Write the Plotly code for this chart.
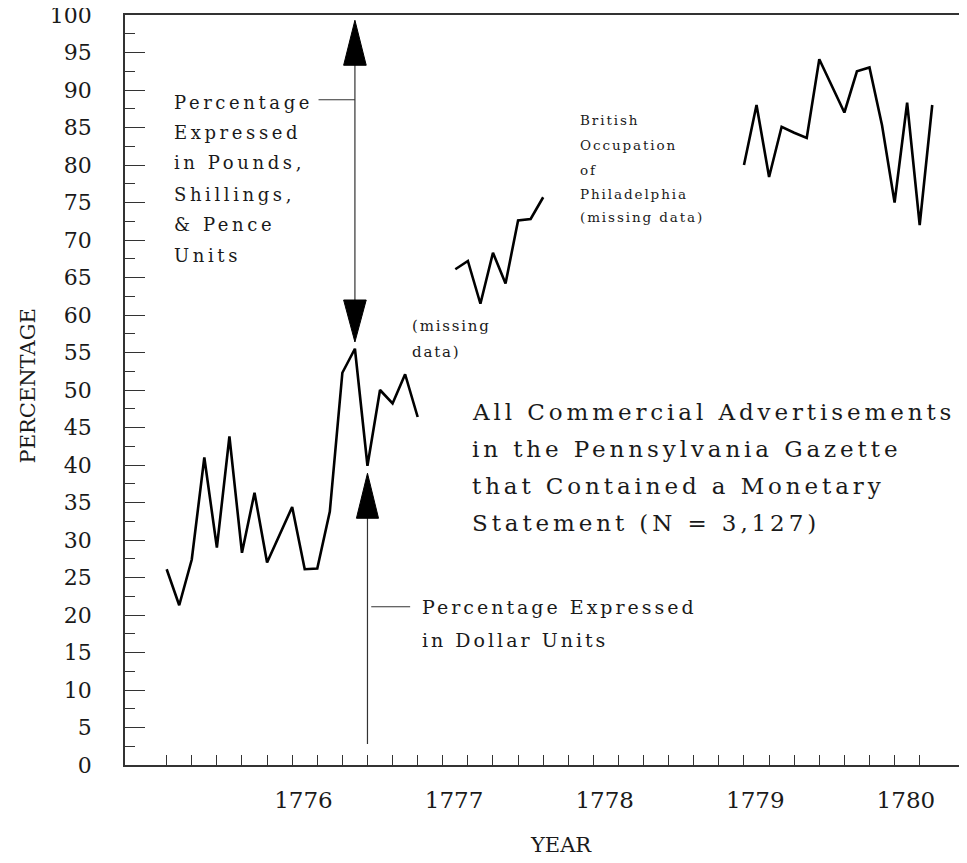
import plotly.graph_objects as go

# ---- data (month index from first observation; None = missing months) ----
seg1_months = list(range(0, 21))
seg1_values = [26.1, 21.3, 27.4, 41.0, 29.0, 43.8, 28.3, 36.3, 27.0, 30.7, 34.4,
               26.1, 26.2, 33.8, 52.3, 55.5, 39.9, 50.0, 48.2, 52.1, 46.4]
seg2_months = list(range(23, 31))
seg2_values = [66.1, 67.2, 61.5, 68.3, 64.2, 72.6, 72.8, 75.7]
seg3_months = list(range(46, 62))
seg3_values = [80.0, 88.0, 78.4, 85.1, 84.3, 83.6, 94.1, 90.5, 87.0, 92.5, 93.0,
               85.3, 75.0, 88.3, 72.0, 88.0]

year_labels = ["1776", "1777", "1778", "1779", "1780"]
year_positions = [10.9, 22.9, 34.9, 46.9, 58.9]
minor_xticks = list(range(0, 61, 2))
y_ticks = list(range(0, 101, 5))
y_minor_ticks = [v + 2.5 for v in range(0, 100, 5)]

FONT = "DejaVu Serif"
INK = "#1a1a1a"

x_all = seg1_months + [None] + seg2_months + [None] + seg3_months
y_all = seg1_values + [None] + seg2_values + [None] + seg3_values

fig = go.Figure()
fig.add_trace(go.Scatter(x=x_all, y=y_all, mode="lines",
                         line=dict(color="black", width=2.6),
                         connectgaps=False, showlegend=False, hoverinfo="skip"))


def sp(text, ls):
    return '<span style="letter-spacing:%.1fpx">%s</span>' % (ls, text)


def add_lines(lines, x, ys, size, ls):
    for t, yy in zip(lines, ys):
        fig.add_annotation(x=x, y=yy, xref="x", yref="y", text=sp(t, ls),
                           showarrow=False, xanchor="left", yanchor="middle",
                           font=dict(family=FONT, size=size, color=INK))


# annotations text
add_lines(["Percentage", "Expressed", "in Pounds,", "Shillings,", "& Pence", "Units"],
          0.42, [88.4, 84.3, 80.3, 76.1, 72.1, 67.9], 18, 3.6)
add_lines(["British", "Occupation", "of", "Philadelphia", "(missing data)"],
          32.8, [86.0, 82.7, 79.3, 76.1, 73.1], 13.5, 1.9)
add_lines(["(missing", "data)"], 19.4, [58.5, 55.1], 15, 1.8)
add_lines(["All Commercial Advertisements", "in the Pennsylvania Gazette",
           "that Contained a Monetary", "Statement (N = 3,127)"],
          24.2, [47.1, 42.1, 37.2, 32.3], 23, 3.9)
add_lines(["Percentage Expressed", "in Dollar Units"], 20.18, [21.1, 16.7], 19, 3.0)

# arrows (data coordinates)
LC = "#333333"
# top arrow (pounds) pointing at month 15
fig.add_shape(type="line", x0=15, x1=15, y0=93.5, y1=62.0, xref="x", yref="y",
              line=dict(color=LC, width=1.2))
fig.add_shape(type="path", path="M 14.1,93.3 L 15.9,93.3 L 15,99.3 Z",
              xref="x", yref="y", fillcolor="black", line=dict(color="black", width=1))
fig.add_shape(type="path", path="M 14.1,62.0 L 15.9,62.0 L 15,56.4 Z",
              xref="x", yref="y", fillcolor="black", line=dict(color="black", width=1))
fig.add_shape(type="line", x0=12.1, x1=15, y0=88.7, y1=88.7, xref="x", yref="y",
              line=dict(color=LC, width=1.2))
# bottom arrow (dollars) pointing at month 16
fig.add_shape(type="line", x0=16, x1=16, y0=33.0, y1=2.8, xref="x", yref="y",
              line=dict(color=LC, width=1.2))
fig.add_shape(type="path", path="M 15.12,32.9 L 16.88,32.9 L 16,38.9 Z",
              xref="x", yref="y", fillcolor="black", line=dict(color="black", width=1))
fig.add_shape(type="line", x0=16.3, x1=19.4, y0=21.1, y1=21.1, xref="x", yref="y",
              line=dict(color=LC, width=1.2))

# axis titles
fig.add_annotation(x=-0.115, y=50.5, xref="paper", yref="y", text="PERCENTAGE",
                   textangle=-90, showarrow=False, xanchor="center", yanchor="middle",
                   font=dict(family=FONT, size=21, color=INK))
fig.add_annotation(x=31.4, y=-0.107, xref="x", yref="paper", text="YEAR",
                   showarrow=False, xanchor="center", yanchor="middle",
                   font=dict(family=FONT, size=21, color=INK))

# the page body adds an 8px offset, so the figure is 8px smaller than the window
fig.update_layout(
    width=959, height=855,
    margin=dict(l=117, r=0, t=7, b=98),
    paper_bgcolor="white", plot_bgcolor="white",
    showlegend=False,
    font=dict(family=FONT, color=INK),
)
fig.update_xaxes(
    range=[-3.32, 63.77], showgrid=False, zeroline=False, automargin=False,
    showline=True, linecolor=LC, linewidth=1.5, mirror=True,
    tickmode="array", tickvals=year_positions, ticktext=year_labels,
    ticks="", ticklabelstandoff=14, ticklabeloverflow="allow",
    tickfont=dict(family=FONT, size=23, color=INK),
    minor=dict(tickmode="array", tickvals=minor_xticks, ticks="inside",
               ticklen=10, tickwidth=1.2, tickcolor=LC, showgrid=False),
)
fig.update_yaxes(
    range=[0, 100], showgrid=False, zeroline=False, automargin=False,
    showline=True, linecolor=LC, linewidth=1.5,
    tickmode="array", tickvals=y_ticks, ticktext=[str(v) for v in y_ticks],
    ticks="inside", ticklen=20, tickwidth=1.2, tickcolor=LC,
    ticklabelstandoff=27, ticklabeloverflow="allow",
    tickfont=dict(family=FONT, size=22, color=INK),
    minor=dict(tickmode="array", tickvals=y_minor_ticks, ticks="inside",
               ticklen=10, tickwidth=1.2, tickcolor=LC, showgrid=False),
)

fig.write_html("out.html")
